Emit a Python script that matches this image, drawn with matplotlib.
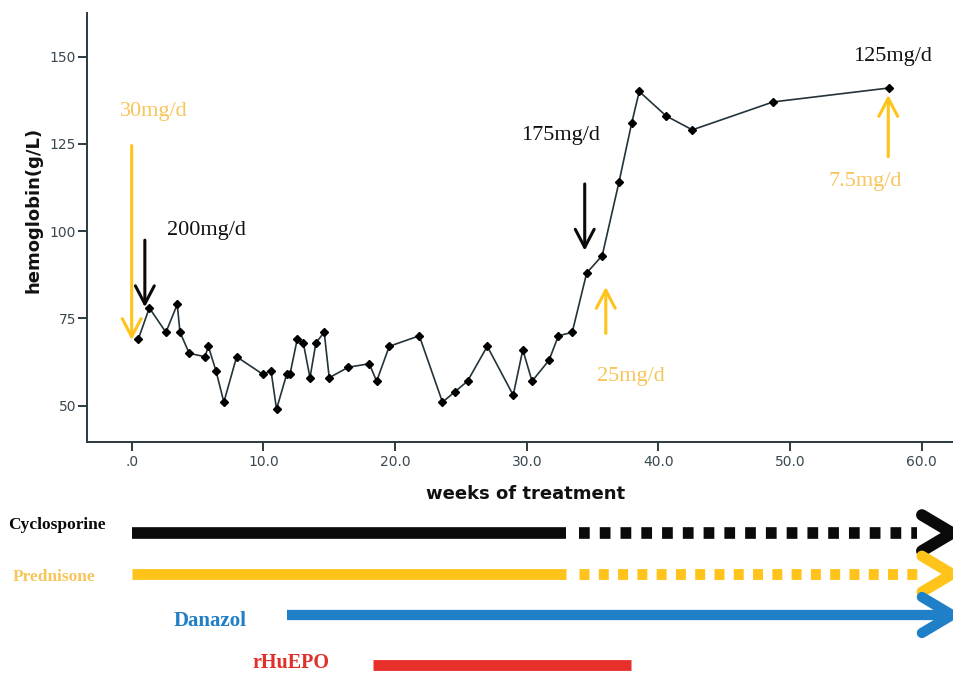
import matplotlib
matplotlib.use("Agg")
import matplotlib.pyplot as plt
from matplotlib.ticker import FuncFormatter

# hemoglobin course
weeks = [0.5, 1.34, 2.6, 3.46, 3.67, 4.37, 5.57, 5.82, 6.4, 7.0, 7.97, 9.95,
         10.58, 11.0, 11.77, 12.02, 12.57, 13.03, 13.54, 13.99, 14.62, 15.0,
         16.45, 18.04, 18.6, 19.56, 21.84, 23.6, 24.55, 25.5, 27.0, 28.97,
         29.7, 30.4, 31.69, 32.4, 33.45, 34.55, 35.73, 37.0, 37.97, 38.54,
         40.58, 42.57, 48.7, 57.5]
hb = [69, 78, 71, 79, 71, 65, 64, 67, 60, 51, 64, 59,
      60, 49, 59, 59, 69, 68, 58, 68, 71, 58,
      61, 62, 57, 67, 70, 51, 54, 57, 67, 53,
      66, 57, 63, 70, 71, 88, 93, 114, 131, 140,
      133, 129, 137, 141]

# dose-change arrows: label, x, tail y, tip y, label x, label y, colour key
dose_text = ["30mg/d", "200mg/d", "175mg/d", "25mg/d", "7.5mg/d", "125mg/d"]
dose_week = [0.0, 1.0, 34.4, 36.0, 57.45, None]
dose_tail = [124.5, 97.4, 113.5, 70.7, 121.3, None]
dose_tip = [68.8, 78.2, 94.4, 84.0, 139.0, None]
dose_lx = [1.7, 5.7, 32.6, 37.9, 55.7, 57.8]
dose_ly = [134.4, 100.3, 127.5, 58.3, 114.1, 149.9]
dose_drug = ["pred", "cyc", "cyc", "pred", "pred", "cyc"]

# treatment periods (weeks)
drugs = ["Cyclosporine", "Prednisone", "Danazol", "rHuEPO"]
drug_start = [0, 0, 11.8, 18.3]
drug_taper = [33.0, 33.0, None, None]
drug_end = [62.3, 62.3, 62.3, 37.9]
drug_ongoing = [True, True, True, False]

ORANGE = "#FFC31A"
ORANGE_TXT = "#F7C55A"
drug_colors = ["#0a0a0a", ORANGE, "#1F80C8", "#E8302A"]
label_colors = ["#0a0a0a", ORANGE_TXT, "#1F7EC6", "#E0302A"]
arrow_colors = {"pred": ORANGE, "cyc": "#0a0a0a"}
text_colors = {"pred": ORANGE_TXT, "cyc": "#111111"}

AX_COL = "#2b3a40"
SERIF = "Liberation Serif"

fig = plt.figure(figsize=(9.54, 6.74), dpi=100)
ax = fig.add_axes([0.0915, 0.3438, 0.9085, 0.637])

ax.plot(weeks, hb, color="#23333a", lw=1.2, marker="D", ms=4.5,
        mfc="black", mec="black", zorder=3)

ax.set_xlim(-3.37, 62.44)
ax.set_ylim(39.5, 162.5)
ax.set_xticks([0, 10, 20, 30, 40, 50, 60])
ax.set_yticks([50, 75, 100, 125, 150])
ax.xaxis.set_major_formatter(FuncFormatter(lambda v, p: ("%.1f" % v) if v else ".0"))

for s in ["top", "right"]:
    ax.spines[s].set_visible(False)
for s in ["left", "bottom"]:
    ax.spines[s].set_color(AX_COL)
    ax.spines[s].set_linewidth(1.4)
ax.tick_params(direction="out", length=6.5, width=1.4, color=AX_COL,
               labelcolor="#3a4850", labelsize=10)
ax.tick_params(axis="y", pad=1.5)
ax.tick_params(axis="x", pad=2.5)

ax.set_xlabel("weeks of treatment", fontsize=13, fontweight="bold", color="#111111")
ax.set_ylabel("hemoglobin(g/L)", fontsize=13, fontweight="bold", color="#111111")
ax.xaxis.set_label_coords(0.506, -0.099)
ax.yaxis.set_label_coords(-0.052, 0.541)

for i in range(len(dose_text)):
    key = dose_drug[i]
    if dose_week[i] is not None:
        ax.annotate("", xy=(dose_week[i], dose_tip[i]),
                    xytext=(dose_week[i], dose_tail[i]),
                    arrowprops=dict(arrowstyle="->, head_length=0.65, head_width=0.34",
                                    color=arrow_colors[key], lw=2.2,
                                    shrinkA=0, shrinkB=0, mutation_scale=20),
                    zorder=4)
    ax.text(dose_lx[i], dose_ly[i], dose_text[i], ha="center", va="center",
            fontsize=16, family=SERIF, color=text_colors[key])

# treatment bars below the chart, same week scale
ax2 = fig.add_axes([0.0915, 0.0, 0.9085, 174 / 674], sharex=ax)
ax2.set_ylim(674, 500)
ax2.axis("off")

row_y = [533, 574, 615, 665]
row_lw = [8.4, 7.8, 7.4, 7.8]
label_x = [-9.4, -9.0, 3.2, 9.2]
label_size = [12.5, 12.5, 15, 14.5]
label_y = [525, 577, 621, 663]

for i in range(len(drugs)):
    c = drug_colors[i]
    y = row_y[i]
    solid_end = drug_taper[i] if drug_taper[i] is not None else drug_end[i]
    if drug_ongoing[i] and drug_taper[i] is None:
        solid_end = drug_end[i] - 0.3
    ax2.plot([drug_start[i], solid_end], [y, y], color=c, lw=row_lw[i],
             solid_capstyle="butt", clip_on=False)
    if drug_taper[i] is not None:
        ax2.plot([drug_taper[i] + 1.0, 59.6], [y, y], color=c, lw=row_lw[i],
                 linestyle=(0, (0.92, 0.86)), dash_capstyle="butt")
    if drug_ongoing[i]:
        ax2.plot([60.0, drug_end[i], 60.0], [y - 18, y, y + 18], color=c,
                 lw=row_lw[i], solid_capstyle="round", solid_joinstyle="miter")
    ax2.text(label_x[i], label_y[i], drugs[i], ha="left", va="center",
             fontsize=label_size[i], fontweight="bold", family=SERIF,
             color=label_colors[i], clip_on=False)

fig.savefig("out.png", dpi=100, facecolor="white")
